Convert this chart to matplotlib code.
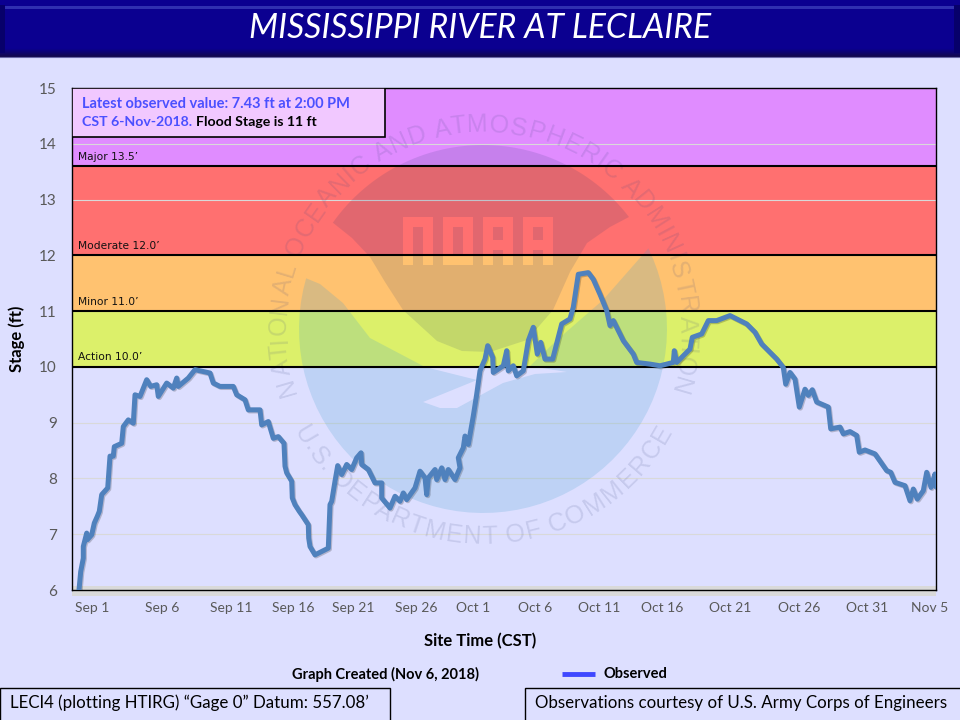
import numpy as np
import matplotlib
matplotlib.use('Agg')
import matplotlib.pyplot as plt
import matplotlib.patheffects as pe
from matplotlib.font_manager import FontProperties
from matplotlib.patches import PathPatch, Polygon, Rectangle
from matplotlib.path import Path
from matplotlib.textpath import TextPath

# Observed stage, x is position along the plot (the date axis is uneven in the original)
obs_pos = [7, 8.7, 11.3, 11.3, 14.7, 15.3, 19.7, 22.3, 25.3, 27.3, 29.7, 35.7, 38, 41.3, 42.3, 49.7,
           51.3, 56.3, 61.3, 63, 68, 74.7, 78.7, 84.7, 86.3, 94.7, 101.3, 104.7, 106.3, 116.3, 123,
           138, 141.3, 148, 161.3, 164.7, 173, 176.3, 188, 189.7, 196.3, 201.3, 206.3, 212, 213, 214.7,
           219.7, 220.3, 223, 227.3, 229.7, 236.3, 236.7, 238, 243, 249.7, 256.3, 258, 259.7, 263, 265.7, 269.7,
           274.7, 279.7, 284.7, 289, 289.7, 296.3, 303, 309.7, 309.7, 318, 323, 328, 331.3, 334.7, 343, 348, 353,
           354.7, 356.3, 363, 364.7, 369.7, 373, 376.3, 383, 388, 386.3, 391.3, 393, 396.3, 401.3,
           404.7, 408, 413, 415.7, 420.7, 421.3, 431.3, 434.7, 436.3, 441.3, 444.7, 451.3, 456.3,
           461.3, 465.3, 468.7, 473, 480.7, 489.7, 498, 501.3, 506.3, 516.3, 521.3, 528, 534.7, 538,
           541.3, 551.3, 561.3, 564.7, 578, 588, 601.3, 602.3, 604.7, 618, 620.3, 629.7, 636.3,
           644.7, 658, 674.7, 683, 689.7, 699.7, 704.7, 711.3, 713.7, 718, 723, 727.3, 733, 736.3,
           740.3, 744.7, 756.3, 758.7, 768, 771.3, 778, 784.7, 787.3, 793, 803, 814.7, 818.7, 823,
           833, 838, 841.3, 845.3, 851.3, 854.7, 859, 863, 864]
obs_stage = [6.0, 6.33, 6.57, 6.78, 7.02, 6.90, 6.99, 7.20, 7.32, 7.41, 7.71, 7.83, 8.40, 8.40, 8.57, 8.63,
             8.93, 9.05, 8.99, 9.50, 9.47, 9.77, 9.65, 9.68, 9.47, 9.71, 9.62, 9.80, 9.65, 9.80, 9.95,
             9.89, 9.71, 9.65, 9.65, 9.50, 9.41, 9.23, 9.23, 8.96, 9.02, 8.72, 8.75, 8.63, 8.22, 8.10,
             7.95, 7.65, 7.53, 7.41, 7.35, 7.17, 6.93, 6.78, 6.63, 6.69, 6.75, 7.53, 7.59, 7.95, 8.23, 8.07,
             8.25, 8.16, 8.37, 8.46, 8.25, 8.16, 7.92, 7.92, 7.65, 7.47, 7.68, 7.59, 7.74, 7.62, 7.83, 8.13, 8.01,
             7.71, 8.01, 8.16, 7.98, 8.19, 7.98, 8.16, 7.98, 8.19, 8.37, 8.55, 8.76, 8.61, 9.12,
             9.51, 9.93, 10.14, 10.38, 10.17, 9.90, 10.02, 10.29, 9.93, 10.02, 9.84, 9.93, 10.47,
             10.71, 10.23, 10.44, 10.14, 10.14, 10.77, 10.86, 11.07, 11.66, 11.69, 11.57, 11.30, 11.01, 10.74,
             10.83, 10.47, 10.23, 10.08, 10.05, 10.02, 10.08, 10.29, 10.08, 10.32, 10.53, 10.59, 10.83,
             10.83, 10.92, 10.77, 10.62, 10.41, 10.23, 10.14, 9.99, 9.69, 9.90, 9.78, 9.28, 9.60, 9.49,
             9.59, 9.37, 9.28, 8.89, 8.92, 8.80, 8.84, 8.77, 8.47, 8.51, 8.44, 8.14, 8.11, 7.93,
             7.87, 7.60, 7.81, 7.63, 7.78, 8.11, 7.84, 8.08, 7.85]

date_labels = ['Sep 1', 'Sep 6', 'Sep 11', 'Sep 16', 'Sep 21', 'Sep 26', 'Oct 1', 'Oct 6',
               'Oct 11', 'Oct 16', 'Oct 21', 'Oct 26', 'Oct 31', 'Nov 5']
date_pos = [20, 90, 159, 221, 281, 344, 401, 463, 527, 590, 658, 727, 795, 858]

band_floor = [10, 11, 12, 13.6]
band_top = [11, 12, 13.6, 15]
band_colors = ['#DCF06A', '#FFC270', '#FF7070', '#E08CFF']
band_labels = ['Action 10.0’', 'Minor 11.0’', 'Moderate 12.0’', 'Major 13.5’']
y_ticks = list(range(6, 16))

BG = '#DDDFFF'
FONT = 'Lato'
GREY = '#595959'

fig = plt.figure(figsize=(9.6, 7.2), dpi=100, facecolor=BG)

# full figure axes in pixels, everything that is not the chart hangs off this one
pix = fig.add_axes([0, 0, 1, 1], zorder=0)
pix.set_xlim(0, 960)
pix.set_ylim(720, 0)
pix.axis('off')

ax = fig.add_axes([72 / 960, 130 / 720, 864 / 960, 502 / 720], zorder=1)
ax.patch.set_alpha(0)

# title bar with bevel
pix.add_patch(Rectangle((0, 0), 960, 57, color='#0B0090', lw=0))
pix.add_patch(Rectangle((4, 6), 952, 3, color='#3030B0', lw=0))
for i in range(9):
    f = i / 8
    pix.add_patch(Rectangle((0, 48 + i), 960, 1, lw=0, color=(0.04 + 0.03 * f, 0.03 * f, 0.56 - 0.26 * f)))
pix.add_patch(Rectangle((0, 5), 5, 48, color='#07006A', lw=0))
pix.add_patch(Rectangle((954, 5), 6, 48, color='#07006A', lw=0))
pix.plot([0, 960], [57, 57], color='#6A68A8', lw=0.8)
pix.text(480, 28.5, 'MISSISSIPPI RIVER AT LECLAIRE', color='white', fontsize=24.3, style='italic',
         family=FONT, ha='center', va='center')

# grey strip behind the x axis
pix.add_patch(Rectangle((72, 586), 864, 10, color='#D9D9D9', lw=0))

# flood bands
for low, high, col in zip(band_floor, band_top, band_colors):
    ax.axhspan(low, high, color=col, lw=0, zorder=1)
for y in y_ticks[1:]:
    ax.axhline(y, color='#D9D9D9', lw=0.8, zorder=2)


def ring(pts, positive=True):
    # closed ring with the winding forced, so the letters punch holes in the dome
    pts = np.array(pts, dtype=float)
    area = np.sum(pts[:, 0] * np.roll(pts[:, 1], -1) - np.roll(pts[:, 0], -1) * pts[:, 1])
    if (area > 0) != positive:
        pts = pts[::-1]
    verts = np.vstack([pts, pts[0]])
    codes = [Path.MOVETO] + [Path.LINETO] * (len(pts) - 1) + [Path.CLOSEPOLY]
    return verts, codes


def circle_pts(a0, a1, n=60):
    # angles clockwise from the top of the logo
    a = np.radians(np.linspace(a0, a1, n))
    return np.column_stack([CX + R * np.sin(a), CY - R * np.cos(a)])


def rect(x0, y0, x1, y1):
    return [(x0, y0), (x1, y0), (x1, y1), (x0, y1)]


# NOAA logo watermark
CX, CY, R = 483, 329, 184
dome = np.vstack([circle_pts(-54.7, 52.5),
                  [(610, 227), (587, 243), (570, 272), (553, 310), (527, 340), (490, 352), (462, 351),
                   (437, 341), (403, 310), (385, 282), (370, 257), (352, 238)]])
parts = [ring(dome, True)]
for x in [403, 443, 483, 523]:
    if x == 403:
        parts.append(ring([(x, 217), (x + 30, 217), (x + 30, 265), (x + 20, 265), (x + 20, 227),
                           (x + 10, 227), (x + 10, 265), (x, 265)], False))
    elif x == 443:
        parts.append(ring(rect(x, 217, x + 30, 265), False))
        parts.append(ring(rect(x + 10, 227, x + 20, 255), True))
    else:
        parts.append(ring([(x, 217), (x + 30, 217), (x + 30, 265), (x + 20, 265), (x + 20, 250),
                           (x + 10, 250), (x + 10, 265), (x, 265)], False))
        parts.append(ring(rect(x + 10, 227, x + 20, 240), True))
dome_path = Path(np.vstack([p[0] for p in parts]), sum([p[1] for p in parts], []))
ax.add_patch(PathPatch(dome_path, facecolor=(30 / 255, 50 / 255, 110 / 255, 0.13), lw=0,
                       transform=pix.transData, zorder=3))

lower_arc = circle_pts(64, 286)
blue = np.vstack([lower_arc,
                  [(320, 284), (343, 303), (370, 338), (425, 367), (477, 380), (423, 402), (440, 408),
                   (457, 408), (503, 383), (535, 374), (567, 372), (530, 366), (557, 340), (603, 300)]])
ax.add_patch(Polygon(blue, closed=True, facecolor=(66 / 255, 158 / 255, 205 / 255, 0.2), lw=0,
                     transform=pix.transData, zorder=3))

fp = FontProperties(family='Liberation Sans', size=18)


def arc_text(text, radius, a0, a1, bottom=False):
    # lay the letters out along the ring using their real advance widths
    bar = TextPath((0, 0), '|', prop=fp).get_extents().x1
    ends = [TextPath((0, 0), text[:i + 1] + '|', prop=fp).get_extents().x1 - bar for i in range(len(text))]
    starts = [0] + ends[:-1]
    total = ends[-1]
    for ch, s, e in zip(text, starts, ends):
        a = np.radians(a0 + (a1 - a0) * (s + e) / 2 / total)
        if bottom:
            x, y, rot = CX + radius * np.sin(a), CY + radius * np.cos(a), np.degrees(a)
        else:
            x, y, rot = CX + radius * np.sin(a), CY - radius * np.cos(a), -np.degrees(a)
        ax.text(x, y, ch, transform=pix.transData, fontproperties=fp, color=(60 / 255, 70 / 255, 130 / 255, 0.14),
                ha='center', va='center', rotation=rot, rotation_mode='anchor', zorder=3)


arc_text('NATIONAL OCEANIC AND ATMOSPHERIC ADMINISTRATION', 204, -109, 109)
arc_text('U.S. DEPARTMENT OF COMMERCE', 208, -62, 62, bottom=True)

# threshold lines go over the logo
for y in band_floor:
    ax.axhline(y, color='black', lw=1.5, zorder=4)
for y, lab in zip(band_floor, band_labels):
    ax.text(6, y + 0.08, lab, fontsize=7.7, family='DejaVu Sans', color='#111111', va='bottom', zorder=6)

ax.plot(obs_pos, obs_stage, color='#4F81BD', lw=3.6, zorder=5, solid_joinstyle='round', solid_capstyle='round',
        path_effects=[pe.SimpleLineShadow(offset=(0.8, -0.8), alpha=0.2), pe.Normal()])

ax.set_xlim(0, 864)
ax.set_ylim(6, 15)
ax.set_yticks(y_ticks)
ax.set_xticks(date_pos)
ax.set_xticklabels(date_labels)
ax.tick_params(axis='both', length=0, labelcolor=GREY)
ax.tick_params(axis='y', labelsize=11, pad=11)
ax.tick_params(axis='x', labelsize=10, pad=9)
for lab in ax.get_xticklabels() + ax.get_yticklabels():
    lab.set_family(FONT)
for s in ax.spines.values():
    s.set_linewidth(1)
    s.set_color('black')

# latest value box
ax.add_patch(Rectangle((72, 88), 313, 49, transform=pix.transData, facecolor='#F1C8FF', edgecolor='black',
                       lw=1.2, zorder=7))
ax.text(82, 103.5, 'Latest observed value: 7.43 ft at 2:00 PM', transform=pix.transData, color='#4B50FF',
        weight='bold', fontsize=10.5, family=FONT, va='center', zorder=8)
ax.text(82, 122.5, 'CST 6-Nov-2018.', transform=pix.transData, color='#4B50FF',
        weight='bold', fontsize=10.2, family=FONT, va='center', zorder=8)
ax.text(196, 122.5, 'Flood Stage is 11 ft', transform=pix.transData, color='black',
        weight='bold', fontsize=10.2, family=FONT, va='center', zorder=8)

pix.text(17, 339, 'Stage (ft)', rotation=90, weight='bold', fontsize=12, family=FONT, ha='center', va='center')
pix.text(480, 641, 'Site Time (CST)', weight='bold', fontsize=12, family=FONT, ha='center', va='center')
pix.text(385, 674, 'Graph Created (Nov 6, 2018)', weight='bold', fontsize=10.5, family=FONT, ha='center', va='center')
pix.plot([562, 595], [674, 674], color='#3F48FF', lw=3.5, solid_capstyle='butt')
pix.text(604, 674, 'Observed', weight='bold', fontsize=10.5, family=FONT, ha='left', va='center')

# footer boxes
pix.add_patch(Rectangle((0, 688), 390, 34, facecolor=BG, edgecolor='black', lw=1))
pix.text(10, 703, 'LECI4 (plotting HTIRG) “Gage 0” Datum: 557.08’', fontsize=12.2, family=FONT, va='center')
pix.add_patch(Rectangle((525, 688), 437, 34, facecolor=BG, edgecolor='black', lw=1))
pix.text(535, 703, 'Observations courtesy of U.S. Army Corps of Engineers', fontsize=12.2, family=FONT, va='center')

fig.savefig('out.png', dpi=100, facecolor=BG)
